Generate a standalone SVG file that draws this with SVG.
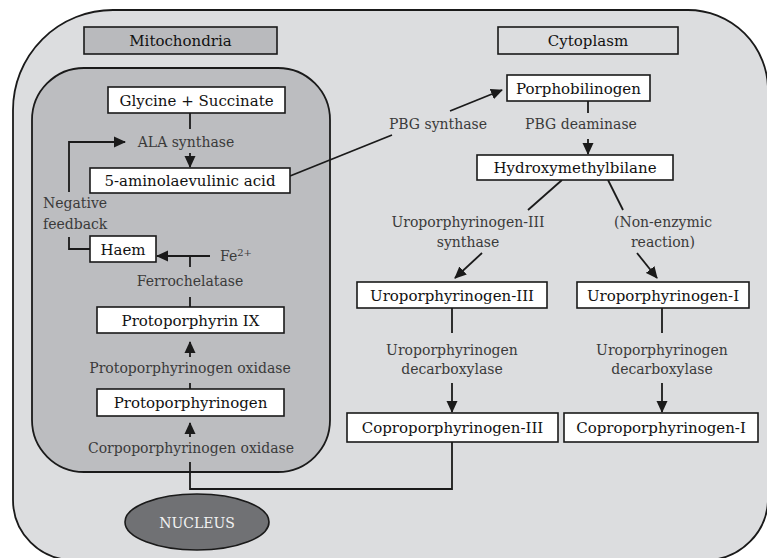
<svg xmlns="http://www.w3.org/2000/svg" width="767" height="558" viewBox="0 0 767 558">
<defs>
<marker id="ah" markerUnits="userSpaceOnUse" markerWidth="12" markerHeight="12" viewBox="0 0 12 12" refX="11" refY="6" orient="auto">
<path d="M0,0.5 L12,6 L0,11.5 Z" fill="#1a1a1a"/>
</marker>
<style>
.box{fill:#fff;stroke:#1a1a1a;stroke-width:1.6}
.lbl{font-family:"DejaVu Serif","Liberation Serif",serif;font-size:14px;fill:#3a3a3a;text-anchor:middle}
.bt{font-family:"DejaVu Serif","Liberation Serif",serif;font-size:15px;fill:#111;text-anchor:middle}
.ln{fill:none;stroke:#1a1a1a;stroke-width:1.8}
.arr{fill:none;stroke:#1a1a1a;stroke-width:1.8;marker-end:url(#ah)}
</style>
</defs>
<g id="cell">
<path d="M113,10 H688 A80,80 0 0 1 768,90 V497 A62,62 0 0 1 706,560 H73 A60,60 0 0 1 13,500 V110 A100,100 0 0 1 113,10 Z" fill="#dcdddf" stroke="#1a1a1a" stroke-width="1.8"/>
</g>
<g id="mitochondria-region">
<rect x="32" y="68" width="298" height="404" rx="52" ry="52" fill="#bcbdc0" stroke="#1a1a1a" stroke-width="1.8"/>
</g>
<g id="label-mitochondria">
<rect x="84" y="27" width="193" height="27" fill="#b9babd" stroke="#1a1a1a" stroke-width="1.6"/>
<text class="bt" x="180.5" y="46" fill="#333">Mitochondria</text>
</g>
<g id="label-cytoplasm">
<rect x="498" y="27" width="180" height="27" fill="#dcdddf" stroke="#1a1a1a" stroke-width="1.6"/>
<text class="bt" x="588" y="46">Cytoplasm</text>
</g>
<g id="nucleus">
<ellipse cx="197" cy="522" rx="72" ry="28" fill="#707174" stroke="#1a1a1a" stroke-width="1.6"/>
<text class="lbl" x="197" y="528" style="fill:#f2f2f2">NUCLEUS</text>
</g>
<g id="connectors">
<line class="ln" x1="190" y1="113" x2="190" y2="129"/>
<line class="arr" x1="190" y1="153" x2="190" y2="167"/>
<polyline class="ln" points="90,249 69,249 69,237"/>
<polyline class="arr" points="69,192 69,142 125,142"/>
<line class="arr" x1="210" y1="256" x2="157" y2="256"/>
<line class="ln" x1="190" y1="256" x2="190" y2="267"/>
<line class="ln" x1="190" y1="297" x2="190" y2="307"/>
<line class="arr" x1="190" y1="357" x2="190" y2="342"/>
<line class="ln" x1="190" y1="383" x2="190" y2="389"/>
<line class="arr" x1="190" y1="437" x2="190" y2="423"/>
<polyline class="ln" points="190,462 190,489 452,489 452,442"/>
<line class="ln" x1="290" y1="176" x2="392" y2="135"/>
<line class="arr" x1="450" y1="111" x2="502" y2="90"/>
<line class="ln" x1="588" y1="101" x2="588" y2="113"/>
<line class="arr" x1="588" y1="139" x2="588" y2="154"/>
<line class="ln" x1="562" y1="180" x2="528" y2="210"/>
<line class="ln" x1="608" y1="180" x2="623" y2="210"/>
<line class="arr" x1="482" y1="253" x2="455" y2="278"/>
<line class="arr" x1="637" y1="253" x2="657" y2="278"/>
<line class="ln" x1="452" y1="308" x2="452" y2="333"/>
<line class="arr" x1="452" y1="383" x2="452" y2="412"/>
<line class="ln" x1="662" y1="308" x2="662" y2="333"/>
<line class="arr" x1="662" y1="383" x2="662" y2="412"/>
</g>
<g id="glycine-succinate">
<rect class="box" x="108" y="87" width="177" height="26"/>
<text class="bt" x="196.5" y="106">Glycine + Succinate</text>
</g>
<g id="ala-synthase"><text class="lbl" x="186" y="147">ALA synthase</text></g>
<g id="ala">
<rect class="box" x="90" y="168" width="200" height="25"/>
<text class="bt" x="190" y="186">5-aminolaevulinic acid</text>
</g>
<g id="negative-feedback">
<text class="lbl" x="43" y="208" style="text-anchor:start">Negative</text>
<text class="lbl" x="43" y="229" style="text-anchor:start">feedback</text>
</g>
<g id="haem">
<rect class="box" x="90" y="236" width="66" height="26"/>
<text class="bt" x="123" y="255">Haem</text>
</g>
<g id="fe"><text class="lbl" x="220" y="261" style="text-anchor:start">Fe<tspan dy="-5" font-size="10">2+</tspan></text></g>
<g id="ferrochelatase"><text class="lbl" x="190" y="286">Ferrochelatase</text></g>
<g id="protoporphyrin-ix">
<rect class="box" x="97" y="307" width="187" height="26"/>
<text class="bt" x="190.5" y="326">Protoporphyrin IX</text>
</g>
<g id="protoporphyrinogen-oxidase"><text class="lbl" x="190" y="373">Protoporphyrinogen oxidase</text></g>
<g id="protoporphyrinogen">
<rect class="box" x="97" y="389" width="187" height="27"/>
<text class="bt" x="190.5" y="408">Protoporphyrinogen</text>
</g>
<g id="coproporphyrinogen-oxidase"><text class="lbl" x="191" y="453">Corpoporphyrinogen oxidase</text></g>
<g id="porphobilinogen">
<rect class="box" x="507" y="75" width="143" height="26"/>
<text class="bt" x="578.5" y="94">Porphobilinogen</text>
</g>
<g id="pbg-synthase"><text class="lbl" x="438" y="129">PBG synthase</text></g>
<g id="pbg-deaminase"><text class="lbl" x="581" y="129">PBG deaminase</text></g>
<g id="hydroxymethylbilane">
<rect class="box" x="477" y="155" width="196" height="25"/>
<text class="bt" x="575" y="173">Hydroxymethylbilane</text>
</g>
<g id="uro3-synthase">
<text class="lbl" x="468" y="227">Uroporphyrinogen-III</text>
<text class="lbl" x="468" y="247">synthase</text>
</g>
<g id="non-enzymic">
<text class="lbl" x="663" y="227">(Non-enzymic</text>
<text class="lbl" x="663" y="247">reaction)</text>
</g>
<g id="uroporphyrinogen-iii">
<rect class="box" x="357" y="282" width="190" height="26"/>
<text class="bt" x="452" y="301">Uroporphyrinogen-III</text>
</g>
<g id="uroporphyrinogen-i">
<rect class="box" x="577" y="282" width="172" height="26"/>
<text class="bt" x="663" y="301">Uroporphyrinogen-I</text>
</g>
<g id="uro-decarb-left">
<text class="lbl" x="452" y="355">Uroporphyrinogen</text>
<text class="lbl" x="452" y="374">decarboxylase</text>
</g>
<g id="uro-decarb-right">
<text class="lbl" x="662" y="355">Uroporphyrinogen</text>
<text class="lbl" x="662" y="374">decarboxylase</text>
</g>
<g id="coproporphyrinogen-iii">
<rect class="box" x="347" y="413" width="211" height="29"/>
<text class="bt" x="452.5" y="433">Coproporphyrinogen-III</text>
</g>
<g id="coproporphyrinogen-i">
<rect class="box" x="564" y="413" width="194" height="29"/>
<text class="bt" x="661" y="433">Coproporphyrinogen-I</text>
</g>
</svg>
